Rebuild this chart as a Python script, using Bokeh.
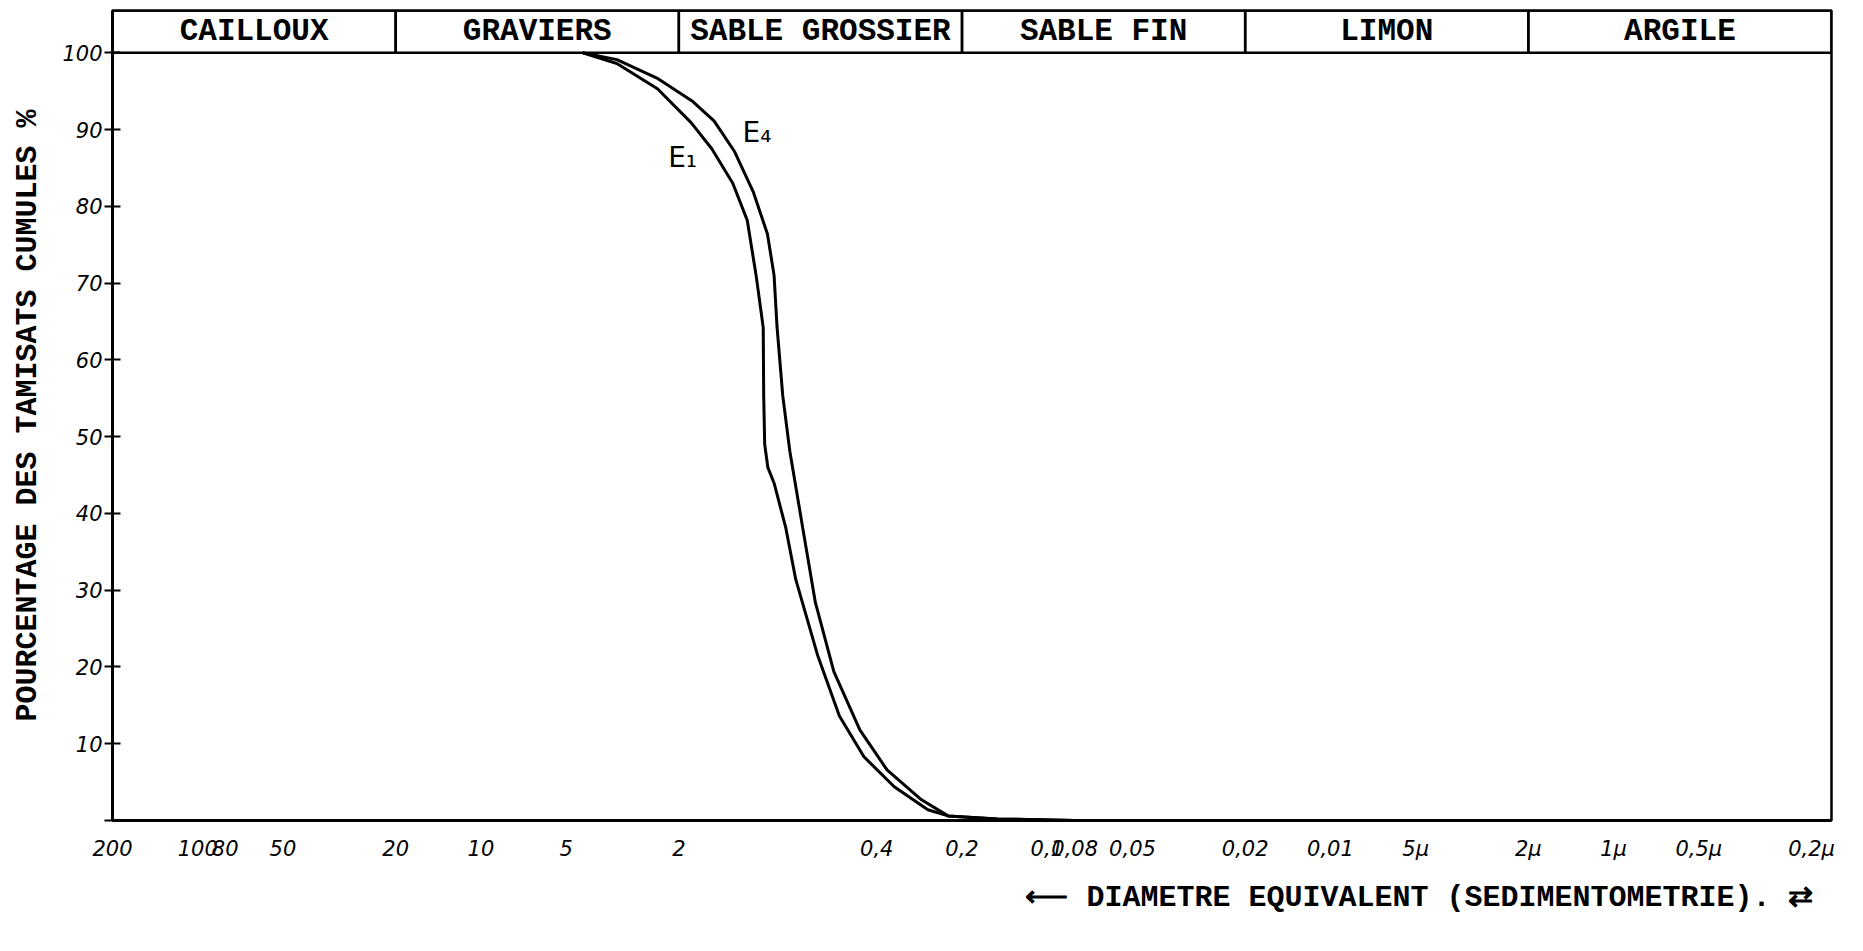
from bokeh.plotting import figure
from bokeh.models import Range1d, FixedTicker, Label, Title, ColumnDataSource
from bokeh.core.properties import value
from bokeh.embed import file_html
from bokeh.resources import INLINE

# ---- data ----
e1_diam = [4.37, 3.31, 2.38, 1.81, 1.53, 1.29, 1.147, 1.066, 1.007, 1.003, 0.995, 0.97,
           0.921, 0.838, 0.773, 0.648, 0.542, 0.444, 0.347, 0.264, 0.224, 0.15, 0.08]
e1_pct = [100, 98.6, 95.3, 90.9, 87.5, 83.0, 78.2, 70.9, 64.2, 55.2, 49.0, 46.0,
          43.9, 38.1, 31.4, 21.6, 13.6, 8.3, 4.4, 1.4, 0.6, 0.2, 0]

e4_diam = [4.37, 3.31, 2.39, 1.78, 1.50, 1.27, 1.09, 0.973, 0.922, 0.900, 0.859,
           0.811, 0.731, 0.659, 0.567, 0.459, 0.368, 0.278, 0.224, 0.15, 0.08]
e4_pct = [100, 99.1, 96.7, 93.6, 91.1, 87.1, 81.8, 76.4, 71.0, 64.3, 55.3,
          48.1, 38.2, 28.4, 19.4, 11.8, 6.6, 2.7, 0.6, 0.2, 0]

class_names = ["CAILLOUX", "GRAVIERS", "SABLE GROSSIER", "SABLE FIN", "LIMON", "ARGILE"]
class_max = [200, 20, 2, 0.2, 0.02, 0.002]
class_min = [20, 2, 0.2, 0.02, 0.002, 0.00017]

x_ticks = [200, 100, 80, 50, 20, 10, 5, 2, 0.4, 0.2, 0.1, 0.08, 0.05, 0.02, 0.01,
           0.005, 0.002, 0.001, 0.0005, 0.0002]
x_tick_labels = ["200", "100", "80", "50", "20", "10", "5", "2", "0,4", "0,2", "0,1",
                 "0,08", "0,05", "0,02", "0,01", "5µ", "2µ", "1µ", "0,5µ", "0,2µ"]
y_ticks = [0, 10, 20, 30, 40, 50, 60, 70, 80, 90, 100]
y_tick_labels = ["", "10", "20", "30", "40", "50", "60", "70", "80", "90", "100"]

MONO = "Liberation Mono"
HAND = "DejaVu Sans"

p = figure(width=1845, height=932, x_axis_type="log",
           x_range=Range1d(200, 0.00017), y_range=Range1d(0, 105.5),
           output_backend="svg", toolbar_location=None,
           min_border_left=112, min_border_right=14, min_border_top=10,
           min_border_bottom=112)
p.background_fill_color = "white"
p.border_fill_color = "white"
p.outline_line_color = "black"
p.outline_line_width = 2.5
p.xgrid.visible = False
p.ygrid.visible = False

# class band above 100 %
band = ColumnDataSource(dict(left=class_max, right=class_min,
                             bottom=[100] * len(class_names), top=[105.5] * len(class_names),
                             xc=[(a * b) ** 0.5 for a, b in zip(class_max, class_min)],
                             yc=[102.75] * len(class_names), name=class_names))
p.quad(left="left", right="right", bottom="bottom", top="top", source=band,
       fill_color=None, line_color="black", line_width=2.5)
p.text(x="xc", y="yc", text="name", source=band, text_align="center",
       text_baseline="middle", text_font=value(MONO), text_font_style="bold",
       text_font_size="31px", text_color="black")

# curves
p.line(e1_diam, e1_pct, line_color="black", line_width=3)
p.line(e4_diam, e4_pct, line_color="black", line_width=3)

p.add_layout(Label(x=1.94, y=86.4, text="E₁", text_font=HAND,
                   text_font_size="28px", text_align="center",
                   text_baseline="middle", text_color="black"))
p.add_layout(Label(x=1.06, y=89.6, text="E₄", text_font=HAND,
                   text_font_size="28px", text_align="center",
                   text_baseline="middle", text_color="black"))

# axes
p.xaxis.ticker = FixedTicker(ticks=x_ticks)
p.xaxis.major_label_overrides = {t: l for t, l in zip(x_ticks, x_tick_labels)}
p.xaxis.minor_tick_line_color = None
p.xaxis.major_tick_in = 0
p.xaxis.major_tick_out = 0
p.xaxis.major_label_standoff = 16
p.xaxis.major_label_text_font = HAND
p.xaxis.major_label_text_font_style = "italic"
p.xaxis.major_label_text_font_size = "21px"
p.xaxis.major_label_text_color = "black"
p.xaxis.axis_line_width = 3
p.xaxis.axis_line_color = "black"

p.yaxis.ticker = FixedTicker(ticks=y_ticks)
p.yaxis.major_label_overrides = {t: l for t, l in zip(y_ticks, y_tick_labels)}
p.yaxis.minor_tick_line_color = None
p.yaxis.major_tick_in = 8
p.yaxis.major_tick_out = 8
p.yaxis.major_tick_line_width = 2
p.yaxis.major_label_standoff = 2
p.yaxis.major_label_text_font = HAND
p.yaxis.major_label_text_font_style = "italic"
p.yaxis.major_label_text_font_size = "21px"
p.yaxis.major_label_text_color = "black"
p.yaxis.axis_line_width = 3
p.yaxis.axis_line_color = "black"
p.yaxis.axis_label = "POURCENTAGE DES TAMISATS CUMULES %"
p.yaxis.axis_label_text_font = MONO
p.yaxis.axis_label_text_font_style = "bold"
p.yaxis.axis_label_text_font_size = "30px"
p.yaxis.axis_label_text_color = "black"
p.yaxis.axis_label_standoff = 14

p.add_layout(Title(text="⟵  DIAMETRE EQUIVALENT (SEDIMENTOMETRIE). ⇄", align="right",
                   text_font=MONO, text_font_style="bold", text_font_size="30px",
                   text_color="black", standoff=30), "below")

open("out.html", "w").write(file_html(p, INLINE))
